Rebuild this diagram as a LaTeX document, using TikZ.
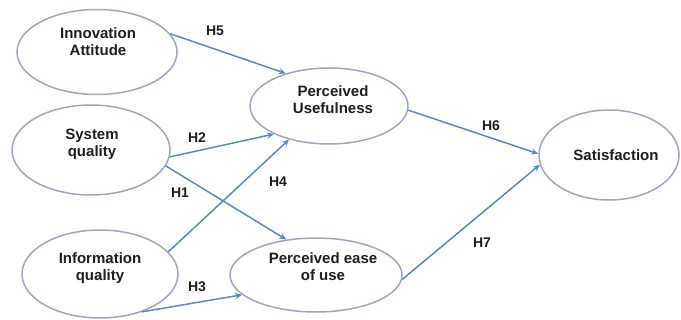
\documentclass[tikz,border=0pt]{standalone}
\usepackage{fontspec}
\setmainfont{Liberation Sans}
\usetikzlibrary{arrows.meta,shapes.geometric}
\definecolor{ovalc}{HTML}{A0A4BC}
\definecolor{arrc}{HTML}{5A86CC}
\definecolor{txtc}{HTML}{1E1E1E}
\begin{document}
\begin{tikzpicture}[x=1pt,y=-1pt,
  oval/.style={draw=ovalc,line width=1.5pt,ellipse,inner sep=0pt},
  txt/.style={text=txtc,font=\bfseries\fontsize{15}{17}\selectfont,align=center,inner sep=0pt},
  hyp/.style={text=txtc,font=\bfseries\fontsize{14}{16}\selectfont,inner sep=0pt},
  link/.style={draw=arrc,line width=1.5pt,-{Stealth[length=7pt,width=6pt]}}]
\useasboundingbox (0,0) rectangle (681,320);
\node[oval,minimum width=160pt,minimum height=85pt,
  label={[txt,yshift=10pt,xshift=1pt]center:Innovation\\Attitude}] (IA) at (97,52) {};
\node[oval,minimum width=158pt,minimum height=90pt,
  label={[txt,yshift=6pt,xshift=1pt]center:System\\quality}] (SQ) at (91,150) {};
\node[oval,minimum width=156pt,minimum height=88pt,
  label={[txt,yshift=6pt]center:Information\\quality}] (IQ) at (100,274) {};
\node[oval,minimum width=158pt,minimum height=76pt,
  label={[txt,yshift=6pt,xshift=4pt]center:Perceived\\Usefulness}] (PU) at (329,106) {};
\node[oval,minimum width=172pt,minimum height=74pt,
  label={[txt,yshift=8pt,xshift=7pt]center:Perceived ease\\of use}] (PEU) at (316,275) {};
\node[oval,minimum width=140pt,minimum height=90pt,
  label={[txt,xshift=7pt]center:Satisfaction}] (SAT) at (609,155) {};

\draw[link] (IA.14) -- (PU.143);
\draw[link] (SQ.-5) -- (PU.207);
\draw[link] (SQ.-12) -- (PEU.130);
\draw[link] (IQ.18) -- (PU.220);
\draw[link] (IQ.-42) -- (PEU.195);
\draw[link] (PU.-3) -- (SAT.179);
\draw[link] (PEU.-3) -- (SAT.188);

\node[hyp] (h5) at (215,31) {H5};
\node[hyp] (h2) at (197,138) {H2};
\node[hyp] (h1) at (180,193) {H1};
\node[hyp] (h4) at (278,182) {H4};
\node[hyp] (h3) at (197,287) {H3};
\node[hyp] (h6) at (491,126) {H6};
\node[hyp] (h7) at (482,243) {H7};
\end{tikzpicture}
\end{document}
